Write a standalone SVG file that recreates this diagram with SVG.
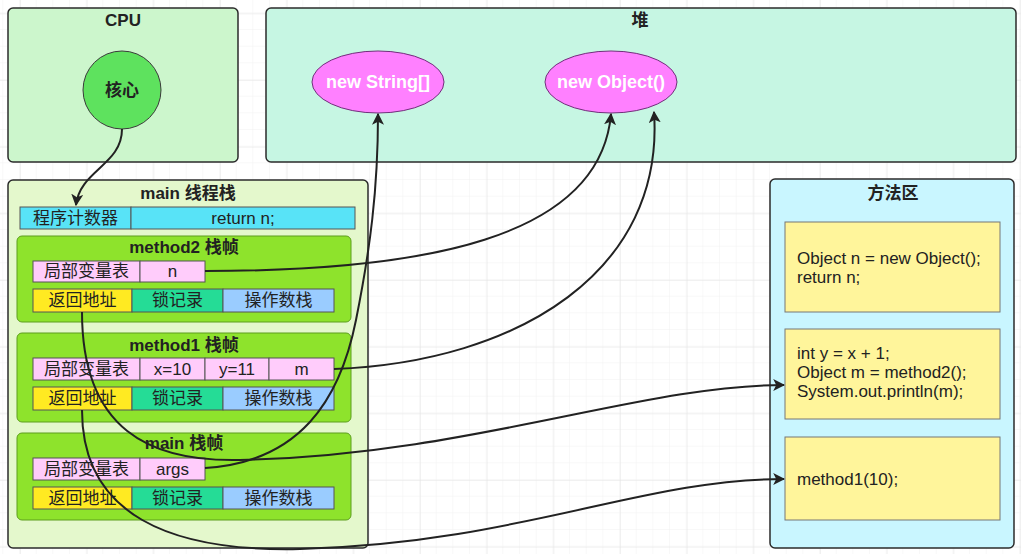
<svg xmlns="http://www.w3.org/2000/svg" width="1021" height="554" viewBox="0 0 1021 554">
<defs>
<pattern id="gridMinor" x="3.33" y="13.33" width="16.667" height="16.667" patternUnits="userSpaceOnUse">
<path d="M16.667 0V16.667M0 16.667H16.667" fill="none" stroke="#f1f1f1" stroke-width="1"/>
</pattern>
<pattern id="gridMajor" x="20" y="13.33" width="66.667" height="66.667" patternUnits="userSpaceOnUse">
<path d="M0 0V66.667M0 0H66.667" fill="none" stroke="#e4e4e4" stroke-width="1"/>
</pattern>
<marker id="arr" viewBox="0 0 10 10" refX="9" refY="5" markerWidth="6" markerHeight="6" markerUnits="strokeWidth" orient="auto">
<path d="M0 0L10 5L0 10L2.5 5Z" fill="#222"/>
</marker>
</defs>
<style>
text{font-family:"Liberation Sans","Noto Sans CJK SC",sans-serif;fill:#222}
.t{font-size:17px;font-weight:bold;text-anchor:middle;dominant-baseline:central}
.c{font-size:17px;text-anchor:middle;dominant-baseline:central}
.code{font-size:17px}
.box{stroke:#2b2b2b;stroke-width:1.5}
.frame{fill:#8ee32c;stroke:#5d9e1d;stroke-width:1}
.cell{stroke:#555;stroke-width:1}
.pink{fill:#ffccfb}
.yel{fill:#ffea22}
.grn{fill:#25dc96}
.blu{fill:#9accff}
.cyan{fill:#58e3f7}
.codebox{fill:#fff59b;stroke:#777;stroke-width:1}
.ell{fill:#ff80ff;stroke:#70307a;stroke-width:1}
.et{font-size:18px;font-weight:bold;fill:#fff;text-anchor:middle;dominant-baseline:central}
.conn{fill:none;stroke:#222;stroke-width:2}
</style>
<rect width="1021" height="554" fill="#ffffff"/>
<rect width="1021" height="554" fill="url(#gridMinor)"/>
<rect width="1021" height="554" fill="url(#gridMajor)"/>

<g id="cpu">
<rect class="box" x="8" y="8" width="230" height="154" rx="5" fill="#ccf6cc"/>
<text class="t" x="123" y="20">CPU</text>
</g>
<g id="core">
<circle cx="122" cy="90" r="39" fill="#5ee25e" stroke="#3a3a3a" stroke-width="1"/>
<text class="t" x="122" y="90">核心</text>
</g>

<g id="heap">
<rect class="box" x="266" y="8" width="750" height="154" rx="5" fill="#c6f6e3"/>
<text class="t" x="640" y="20">堆</text>
</g>
<g id="newString">
<ellipse class="ell" cx="378" cy="82" rx="66" ry="31"/>
<text class="et" x="378" y="82">new String[]</text>
</g>
<g id="newObject">
<ellipse class="ell" cx="611" cy="82" rx="66" ry="31"/>
<text class="et" x="611" y="82">new Object()</text>
</g>

<g id="mainStack">
<rect class="box" x="8" y="180" width="360" height="368" rx="5" fill="#e4f8cc"/>
<text class="t" x="188" y="193">main 线程栈</text>
</g>
<g id="pc">
<rect class="cell cyan" x="20" y="207" width="111" height="22"/>
<rect class="cell cyan" x="131" y="207" width="224" height="22"/>
<text class="c" x="75.5" y="218">程序计数器</text>
<text class="c" x="243" y="218">return n;</text>
</g>

<g id="method2">
<rect class="frame" x="17" y="236" width="334" height="86" rx="5"/>
<text class="t" x="184" y="247">method2 栈帧</text>
<rect class="cell pink" x="33" y="261" width="107" height="21"/>
<rect class="cell pink" x="140" y="261" width="65" height="21"/>
<text class="c" x="86.5" y="271.5">局部变量表</text>
<text class="c" x="172.5" y="271.5">n</text>
<rect class="cell yel" x="33" y="289" width="99" height="23"/>
<rect class="cell grn" x="132" y="289" width="91" height="23"/>
<rect class="cell blu" x="223" y="289" width="111" height="23"/>
<text class="c" x="82.5" y="300.5">返回地址</text>
<text class="c" x="177.5" y="300.5">锁记录</text>
<text class="c" x="278.5" y="300.5">操作数栈</text>
</g>

<g id="method1">
<rect class="frame" x="17" y="333" width="334" height="89" rx="5"/>
<text class="t" x="184" y="345">method1 栈帧</text>
<rect class="cell pink" x="33" y="358" width="107" height="22"/>
<rect class="cell pink" x="140" y="358" width="65" height="22"/>
<rect class="cell pink" x="205" y="358" width="64" height="22"/>
<rect class="cell pink" x="269" y="358" width="65" height="22"/>
<text class="c" x="86.5" y="369">局部变量表</text>
<text class="c" x="172.5" y="369">x=10</text>
<text class="c" x="237" y="369">y=11</text>
<text class="c" x="301.5" y="369">m</text>
<rect class="cell yel" x="33" y="387" width="99" height="23"/>
<rect class="cell grn" x="132" y="387" width="91" height="23"/>
<rect class="cell blu" x="223" y="387" width="111" height="23"/>
<text class="c" x="82.5" y="398.5">返回地址</text>
<text class="c" x="177.5" y="398.5">锁记录</text>
<text class="c" x="278.5" y="398.5">操作数栈</text>
</g>

<g id="mainFrame">
<rect class="frame" x="17" y="433" width="334" height="87" rx="5"/>
<text class="t" x="184" y="443">main 栈帧</text>
<rect class="cell pink" x="33" y="458" width="107" height="22"/>
<rect class="cell pink" x="140" y="458" width="65" height="22"/>
<text class="c" x="86.5" y="469">局部变量表</text>
<text class="c" x="172.5" y="469">args</text>
<rect class="cell yel" x="33" y="487" width="99" height="22"/>
<rect class="cell grn" x="132" y="487" width="91" height="22"/>
<rect class="cell blu" x="223" y="487" width="111" height="22"/>
<text class="c" x="82.5" y="498">返回地址</text>
<text class="c" x="177.5" y="498">锁记录</text>
<text class="c" x="278.5" y="498">操作数栈</text>
</g>

<g id="methodArea">
<rect class="box" x="770" y="179" width="244" height="369" rx="5" fill="#c9f6ff"/>
<text class="t" x="893" y="193">方法区</text>
</g>
<g id="code2">
<rect class="codebox" x="785" y="222" width="215" height="90"/>
<text class="code" x="797" y="264">Object n = new Object();</text>
<text class="code" x="797" y="283">return n;</text>
</g>
<g id="code1">
<rect class="codebox" x="785" y="329" width="215" height="90"/>
<text class="code" x="797" y="359">int y = x + 1;</text>
<text class="code" x="797" y="378">Object m = method2();</text>
<text class="code" x="797" y="397">System.out.println(m);</text>
</g>
<g id="codeMain">
<rect class="codebox" x="785" y="437" width="215" height="83"/>
<text class="code" x="797" y="485">method1(10);</text>
</g>

<g id="connectors">
<path class="conn" marker-end="url(#arr)" d="M122,129 C122,165 80,170 76,205"/>
<path class="conn" marker-end="url(#arr)" d="M205,271 C420,271 600,240 611,114"/>
<path class="conn" marker-end="url(#arr)" d="M334,369 C520,362 665,270 654,112"/>
<path class="conn" marker-end="url(#arr)" d="M205,468 C300,462 340,400 356,320 C370,250 378,190 378,114"/>
<path class="conn" marker-end="url(#arr)" d="M82,312 C82,430 150,462 240,460 C470,455 640,385 784,385"/>
<path class="conn" marker-end="url(#arr)" d="M82,410 C82,515 170,552 300,549 C520,543 640,479 784,479"/>
</g>
</svg>
